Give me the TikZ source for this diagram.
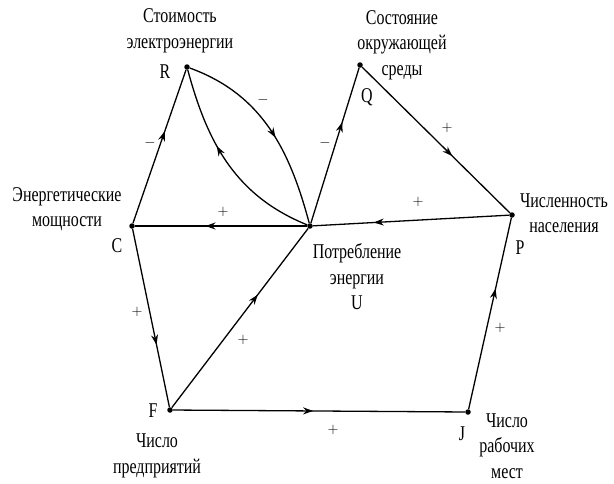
\documentclass[tikz,border=0pt]{standalone}
\usepackage{fontspec}
\setmainfont{Liberation Serif}[FakeStretch=0.76]
\usetikzlibrary{arrows.meta,decorations.markings}

\tikzset{
  pnt/.style={circle, fill, inner sep=0pt, minimum size=5.5pt},
  sign/.style={font=\fontsize{15}{15}\selectfont},
  caption/.style={align=center, font=\fontsize{21}{25.5}\selectfont},
  letter/.style={font=\fontsize{21}{21}\selectfont},
  flow/.style={line width=1.3pt, postaction={decorate},
    decoration={markings, mark=at position #1 with {\arrow{Stealth[length=10pt,width=7pt]}}}},
  flow/.default=0.6
}

\begin{document}
\begin{tikzpicture}[x=1pt, y=-1pt]
        \useasboundingbox (0,0) rectangle (614,483);

        % we place the points
        \node[pnt] (R) at (187,67) {};
        \node[pnt] (Q) at (360,65) {};
        \node[pnt] (C) at (132,226) {};
        \node[pnt] (U) at (310,226) {};
        \node[pnt] (P) at (512,215) {};
        \node[pnt] (F) at (170,410) {};
        \node[pnt] (J) at (468,412) {};

        % we add letters and captions
        \node[letter] (Rl) at (165,72) {R};
        \node[letter] (Ql) at (367,97) {Q};
        \node[letter] (Cl) at (117,246) {C};
        \node[letter] (Pl) at (520,248) {P};
        \node[letter] (Fl) at (153,411) {F};
        \node[letter] (Jl) at (462,434) {J};
        \node[caption] (Rc) at (180,31) {Стоимость\\электроэнергии};
        \node[caption] (Qc) at (402,45) {Состояние\\окружающей\\среды};
        \node[caption] (Cc) at (67,209) {Энергетические\\мощности};
        \node[caption] (Pc) at (564,213) {Численность\\населения};
        \node[caption] (Uc) at (357,277) {Потребление\\энергии\\U};
        \node[caption] (Fc) at (157,456) {Число\\предприятий};
        \node[caption] (Jc) at (507,446) {Число\\рабочих\\мест};

        % we draw the links
        \draw[flow] (C) -- (R);
        \draw[flow=0.55] (R) to[out=-20, in=105] (U);
        \draw[flow=0.6] (U) to[out=158, in=-75] (R);
        \draw[flow=0.59] (U) -- (C);
        \draw[flow=0.65] (U) -- (Q);
        \draw[flow=0.61] (Q) -- (P);
        \draw[flow=0.69] (P) -- (U);
        \draw[flow=0.65] (C) -- (F);
        \draw[flow=0.63] (F) -- (U);
        \draw[flow=0.48] (F) -- (J);
        \draw[flow=0.63] (J) -- (P);

        % we add the signs
        \node[sign] (s1) at (150,143) {$-$};
        \node[sign] (s2) at (263,100) {$-$};
        \node[sign] (s3) at (223,212) {$+$};
        \node[sign] (s4) at (325,143) {$-$};
        \node[sign] (s5) at (447,128) {$+$};
        \node[sign] (s6) at (418,202) {$+$};
        \node[sign] (s7) at (137,312) {$+$};
        \node[sign] (s8) at (243,340) {$+$};
        \node[sign] (s9) at (333,430) {$+$};
        \node[sign] (s10) at (500,328) {$+$};
    \end{tikzpicture}
\end{document}
